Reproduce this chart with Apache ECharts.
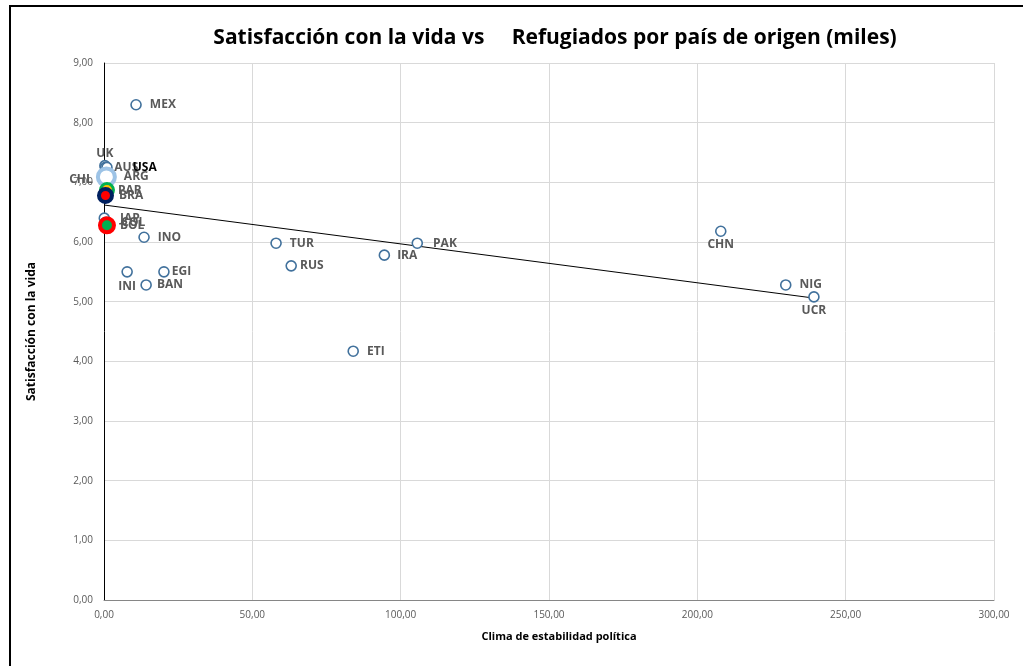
<!DOCTYPE html>
<html lang="es">
<head>
    <meta charset="UTF-8">
    <title>Satisfacción con la vida vs Refugiados</title>
    <script src="https://cdn.jsdelivr.net/npm/echarts@6/dist/echarts.min.js"></script>
</head>
<style>
    html,body{
        padding: 0;
        margin: 0;
        background: #fff;
    }
</style>
<body>
<div id="chart" style="width: 1023px;height:666px;"></div>
</body>
<script type="text/javascript">
    // datos
    var paises = ['MEX','UK','AUS','USA','CHL','ARG','PAR','BRA','JAP','COL','BOL',
                  'INO','INI','BAN','EGI','TUR','RUS','IRA','PAK','ETI','CHN','NIG','UCR'];
    var refugiados = [10.8, 0.3, 0.5, 1.0, 0.2, 0.8, 1.0, 0.5, 0.1, 0.5, 1.0,
                      13.5, 7.8, 14.2, 20.2, 58.0, 63.1, 94.5, 105.6, 84.0, 207.9, 229.8, 239.3];
    var satisfaccion = [8.30, 7.28, 7.25, 7.25, 7.05, 7.09, 6.87, 6.78, 6.40, 6.33, 6.28,
                        6.08, 5.50, 5.28, 5.50, 5.98, 5.60, 5.78, 5.98, 4.17, 6.18, 5.28, 5.08];
    // linea de tendencia (extremos leidos)
    var tendenciaX = [0, 239.3];
    var tendenciaY = [6.62, 5.06];

    // posicion de las etiquetas
    var etiquetas = {
        MEX: {position: 'right', distance: 8},
        UK:  {position: 'top', distance: 0, offset: [-1, 4]},
        AUS: {position: 'right', distance: 3, offset: [0, -5]},
        USA: {position: 'right', distance: 20, offset: [0, -2], color: '#000'},
        CHL: {position: 'left', distance: 6, offset: [0, 2]},
        ARG: {position: 'right', distance: 7},
        PAR: {position: 'right', distance: 3},
        BRA: {position: 'right', distance: 5, offset: [0, 4]},
        JAP: {position: 'right', distance: 10},
        COL: {position: 'right', distance: 10},
        BOL: {position: 'right', distance: 4},
        INO: {position: 'right', distance: 8},
        INI: {position: 'bottom', distance: 3, offset: [-3, 0]},
        BAN: {position: 'right', distance: 5, offset: [0, 6]},
        EGI: {position: 'right', distance: 2, offset: [0, -5]},
        TUR: {position: 'right', distance: 8},
        RUS: {position: 'right', distance: 3},
        IRA: {position: 'right', distance: 7},
        PAK: {position: 'right', distance: 10},
        ETI: {position: 'right', distance: 8},
        CHN: {position: 'bottom', distance: 2, offset: [22, 0]},
        NIG: {position: 'right', distance: 8, offset: [0, 4]},
        UCR: {position: 'bottom', distance: 2, offset: [19, 0]}
    };

    // marcadores especiales
    var marcadores = {
        ARG: {size: 17, color: '#fff', borderColor: '#9DC3E6', borderWidth: 4},
        PAR: {size: 13, color: '#FFC000', borderColor: '#00B050', borderWidth: 3},
        BRA: {size: 13, color: '#FF0000', borderColor: '#002060', borderWidth: 4},
        BOL: {size: 14, color: '#00B050', borderColor: '#FF0000', borderWidth: 4}
    };

    var fmt = function (v) { return v.toFixed(2).replace('.', ','); };

    var puntos = paises.map(function (p, i) {
        var item = {name: p, value: [refugiados[i], satisfaccion[i]]};
        var et = etiquetas[p];
        if (et) {
            item.label = {position: et.position, distance: et.distance, offset: et.offset || [0, 0]};
            if (et.color) item.label.color = et.color;
        }
        var m = marcadores[p];
        if (m) {
            item.symbolSize = m.size;
            item.itemStyle = {color: m.color, borderColor: m.borderColor, borderWidth: m.borderWidth};
        }
        return item;
    });

    var tendencia = tendenciaX.map(function (x, i) { return [x, tendenciaY[i]]; });

    var myChart = echarts.init(document.getElementById('chart'));
    myChart.setOption({
        animation: false,
        title: {
            text: 'Satisfacción con la vida vs     Refugiados por país de origen (miles)',
            left: 550,
            textAlign: 'center',
            top: 23,
            textStyle: {fontFamily: 'Open Sans', fontSize: 21, fontWeight: 'bold', color: '#000'}
        },
        graphic: [{
            type: 'rect',
            shape: {x: 10, y: 6, width: 1100, height: 800},
            style: {fill: 'none', stroke: '#000', lineWidth: 2},
            silent: true
        }],
        grid: {left: 104, right: 29, top: 63, bottom: 66, outerBoundsMode: 'none', containLabel: false},
        xAxis: {
            type: 'value',
            min: 0, max: 300, interval: 50,
            name: 'Clima de estabilidad política',
            nameLocation: 'middle',
            nameGap: 31,
            nameTextStyle: {fontFamily: 'Open Sans', fontSize: 11, fontWeight: 'bold', color: '#000', padding: [0, 0, 0, 20]},
            axisLine: {show: true, lineStyle: {color: '#868686', width: 1}},
            axisTick: {show: false},
            axisLabel: {formatter: fmt, color: '#595959', fontFamily: 'Open Sans', fontSize: 10, margin: 10},
            splitLine: {show: true, lineStyle: {color: '#D9D9D9'}}
        },
        yAxis: {
            type: 'value',
            min: 0, max: 9, interval: 1,
            name: 'Satisfacción con la vida',
            nameLocation: 'middle',
            nameGap: 66,
            nameRotate: 90,
            nameTextStyle: {fontFamily: 'Open Sans', fontSize: 12, fontWeight: 'bold', color: '#000'},
            axisLine: {show: true, lineStyle: {color: '#000', width: 1}},
            axisTick: {show: false},
            axisLabel: {formatter: fmt, color: '#595959', fontFamily: 'Open Sans', fontSize: 10, margin: 11},
            splitLine: {show: true, lineStyle: {color: '#D9D9D9'}}
        },
        series: [{
            type: 'line',
            data: tendencia,
            symbol: 'none',
            silent: true,
            lineStyle: {color: '#000', width: 1},
            z: 1
        }, {
            type: 'scatter',
            data: puntos,
            symbol: 'circle',
            symbolSize: 10,
            itemStyle: {color: '#fff', borderColor: '#41719C', borderWidth: 1.6, opacity: 1},
            label: {
                show: true,
                formatter: '{b}',
                fontFamily: 'Open Sans',
                fontSize: 12,
                fontWeight: 'bold',
                color: '#595959'
            },
            labelLayout: {hideOverlap: false},
            z: 3
        }]
    });
</script>
</html>
